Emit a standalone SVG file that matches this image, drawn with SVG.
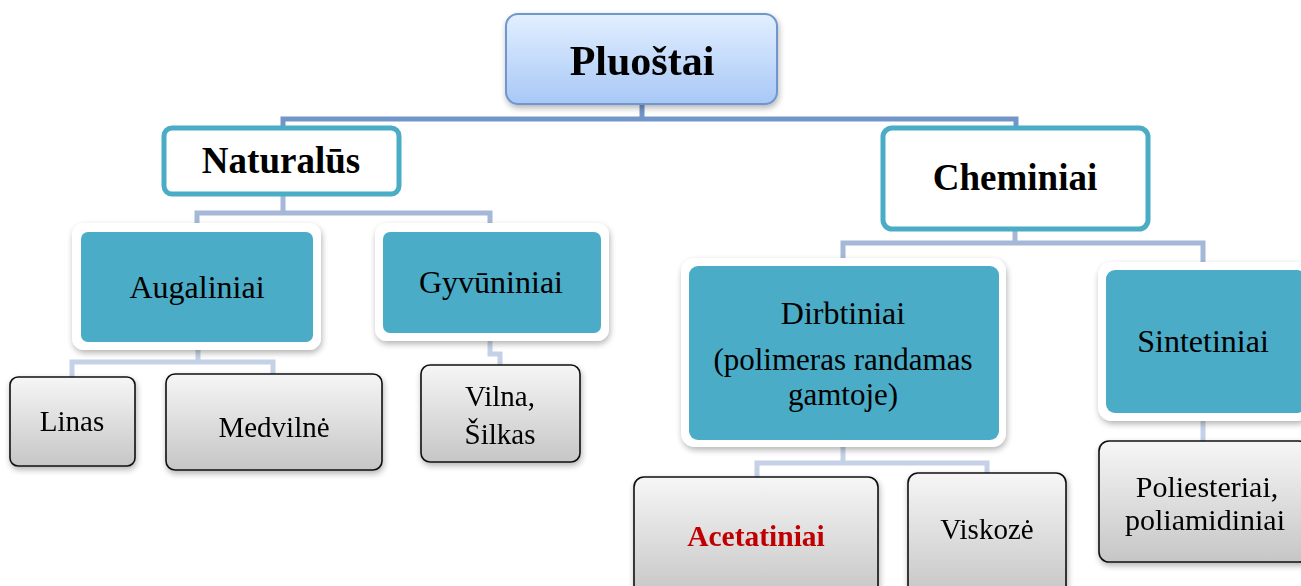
<svg xmlns="http://www.w3.org/2000/svg" width="1301" height="586" viewBox="0 0 1301 586">
  <style>
    .lbl { font-family: "Liberation Serif", "Times New Roman", serif; fill: #000; text-anchor: middle; }
    .reg { font-size: 29px; }
    .big { font-size: 32px; }
    .bold { font-weight: bold; }
    .conn1 { fill: none; stroke: #7296c9; stroke-width: 5; }
    .conn2 { fill: none; stroke: #a6b8d8; stroke-width: 5; }
    .conn3 { fill: none; stroke: #c5d1e6; stroke-width: 5; }
    .head { fill: #fff; stroke: #4bacc6; stroke-width: 5; }
    .outer { fill: #fff; }
    .inner { fill: #4aacc6; }
    .leaf { fill: url(#gray); stroke: #111; stroke-width: 1.6; }
  </style>
  <defs>
    <linearGradient id="blue" x1="0" y1="0" x2="0" y2="1">
      <stop offset="0" stop-color="#e2efff"/>
      <stop offset="1" stop-color="#a8c8f6"/>
    </linearGradient>
    <linearGradient id="gray" x1="0" y1="0" x2="0" y2="1">
      <stop offset="0" stop-color="#f6f6f6"/>
      <stop offset="1" stop-color="#c6c6c6"/>
    </linearGradient>
    <filter id="shadow" x="-10%" y="-10%" width="125%" height="130%">
      <feGaussianBlur in="SourceAlpha" stdDeviation="3"/>
      <feOffset dx="1" dy="3" result="b"/>
      <feComponentTransfer><feFuncA type="linear" slope="0.3"/></feComponentTransfer>
      <feMerge><feMergeNode/><feMergeNode in="SourceGraphic"/></feMerge>
    </filter>
  </defs>

  <rect width="1301" height="586" fill="#fff"/>

  <!-- connectors -->
  <g id="connectors">
    <path class="conn1" d="M642,104 V117 M283,130 V119 H1016 V130"/>
    <path class="conn2" d="M283,194 V213 M197,235 V213 H490 V235"/>
    <path class="conn2" d="M1015,229 V244 M843,262 V243 H1203 V262"/>
    <path class="conn3" d="M198,350 V361 M72,378 V362 H273 V376"/>
    <path class="conn3" d="M490,341 V354 H500 V366"/>
    <path class="conn3" d="M843,447 V462 M757,478 V463 H987 V474"/>
    <path class="conn3" d="M1203,421 V442"/>
  </g>

  <!-- level 0 -->
  <g id="pluostai" filter="url(#shadow)">
    <rect x="506" y="14" width="271" height="90" rx="12" fill="url(#blue)" stroke="#6f96cf" stroke-width="2"/>
    <text class="lbl bold" x="642" y="75" font-size="42">Pluoštai</text>
  </g>

  <!-- level 1 -->
  <g id="naturalus">
    <rect class="head" x="164" y="128" width="235" height="66" rx="8"/>
    <text class="lbl bold" x="281" y="173" font-size="37">Naturalūs</text>
  </g>
  <g id="cheminiai">
    <rect class="head" x="883" y="128" width="265" height="101" rx="9"/>
    <text class="lbl bold" x="1015" y="190" font-size="37">Cheminiai</text>
  </g>

  <!-- level 2 -->
  <g id="augaliniai">
    <rect class="outer" x="72" y="223" width="249" height="127" rx="12" filter="url(#shadow)"/>
    <rect class="inner" x="81" y="232" width="232" height="110" rx="7"/>
    <text class="lbl big" x="197" y="298">Augaliniai</text>
  </g>
  <g id="gyvuniniai">
    <rect class="outer" x="375" y="223" width="234" height="118" rx="12" filter="url(#shadow)"/>
    <rect class="inner" x="383" y="232" width="218" height="101" rx="7"/>
    <text class="lbl big" x="491" y="293">Gyvūniniai</text>
  </g>
  <g id="dirbtiniai">
    <rect class="outer" x="681" y="258" width="325" height="189" rx="14" filter="url(#shadow)"/>
    <rect class="inner" x="689" y="266" width="310" height="174" rx="9"/>
    <text class="lbl big" x="843" y="324">Dirbtiniai</text>
    <text class="lbl" x="843" y="370" font-size="31">(polimeras randamas</text>
    <text class="lbl" x="843" y="405" font-size="31">gamtoje)</text>
  </g>
  <g id="sintetiniai">
    <rect class="outer" x="1098" y="262" width="212" height="159" rx="14" filter="url(#shadow)"/>
    <rect class="inner" x="1106" y="270" width="200" height="143" rx="9"/>
    <text class="lbl big" x="1203" y="352">Sintetiniai</text>
  </g>

  <!-- level 3 -->
  <g id="linas" filter="url(#shadow)">
    <rect class="leaf" x="10" y="377" width="125" height="89" rx="8"/>
    <text class="lbl reg" x="72" y="431">Linas</text>
  </g>
  <g id="medvilne" filter="url(#shadow)">
    <rect class="leaf" x="166" y="374" width="216" height="96" rx="9"/>
    <text class="lbl reg" x="274" y="437">Medvilnė</text>
  </g>
  <g id="vilna-silkas" filter="url(#shadow)">
    <rect class="leaf" x="421" y="365" width="159" height="97" rx="9"/>
    <text class="lbl reg" x="500" y="406">Vilna,</text>
    <text class="lbl reg" x="500" y="444">Šilkas</text>
  </g>
  <g id="acetatiniai" filter="url(#shadow)">
    <rect class="leaf" x="634" y="477" width="244" height="120" rx="10"/>
    <text class="lbl bold" x="756" y="546" font-size="29.5" style="fill:#c00000">Acetatiniai</text>
  </g>
  <g id="viskoze" filter="url(#shadow)">
    <rect class="leaf" x="908" y="473" width="158" height="124" rx="10"/>
    <text class="lbl reg" x="987" y="539">Viskozė</text>
  </g>
  <g id="poliesteriai" filter="url(#shadow)">
    <rect class="leaf" x="1099" y="441" width="210" height="121" rx="10"/>
    <text class="lbl" x="1207" y="497" font-size="30">Poliesteriai,</text>
    <text class="lbl" x="1205" y="530" font-size="30">poliamidiniai</text>
  </g>
</svg>
